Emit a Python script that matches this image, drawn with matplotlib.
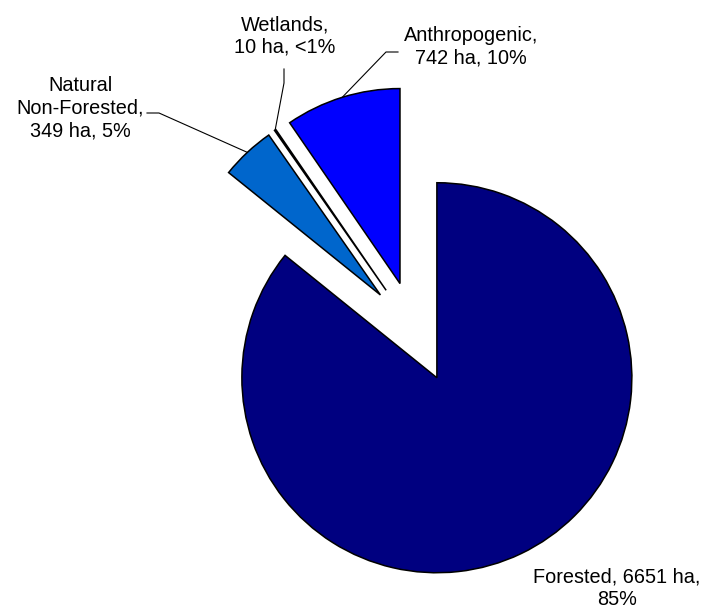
import numpy as np
import matplotlib.pyplot as plt

plt.rcParams['font.family'] = ['Liberation Sans', 'DejaVu Sans']

W, H = 706, 612

names = ['Forested', 'Natural\nNon-Forested', 'Wetlands', 'Anthropogenic']
hectares = [6651, 349, 10, 742]
pct_text = ['85%', '5%', '<1%', '10%']
colors = ['#000080', '#0066CC', '#0000FF', '#0000FF']

labels = ['Forested, 6651 ha,\n85%',
          'Natural\nNon-Forested,\n349 ha, 5%',
          'Wetlands,\n10 ha, <1%',
          'Anthropogenic,\n742 ha, 10%']

# label centres and leader elbows in pixel coords (y from top)
label_xy = [(617, 588), (80, 108), (285, 36), (471, 47)]
elbows = [None, [(147, 113), (159, 113)], [(284, 69), (284, 83)], [(398, 52), (386, 52)]]

center_px = (415, 332)
radius = 195
expl = 0.26 * radius   # pie() takes the offset in data units


def px(x, y):
    return (x, H - y)


fig = plt.figure(figsize=(W / 100, H / 100), dpi=100)
ax = fig.add_axes([0, 0, 1, 1])

cx, cy = px(*center_px)
wedges, _ = ax.pie(hectares, colors=colors, startangle=90, counterclock=False,
                   explode=[expl] * 4, radius=radius, center=(cx, cy),
                   wedgeprops=dict(edgecolor='black', linewidth=1.1))

total = float(sum(hectares))
start = 90.0
for i, v in enumerate(hectares):
    span = 360.0 * v / total
    mid = np.deg2rad(start - span / 2)
    start -= span
    ox = cx + expl * np.cos(mid)
    oy = cy + expl * np.sin(mid)
    ax_, ay_ = ox + radius * np.cos(mid), oy + radius * np.sin(mid)
    tx, ty = px(*label_xy[i])
    ax.text(tx, ty, labels[i], ha='center', va='center', fontsize=14.3,
            linespacing=1.25, color='black')
    if elbows[i] is not None:
        pts = [px(*p) for p in elbows[i]] + [(ax_, ay_)]
        ax.plot([p[0] for p in pts], [p[1] for p in pts], color='black', lw=0.8)

ax.set_xlim(0, W)
ax.set_ylim(0, H)
ax.set_aspect('equal')
ax.axis('off')

fig.savefig('out.png', dpi=100)
